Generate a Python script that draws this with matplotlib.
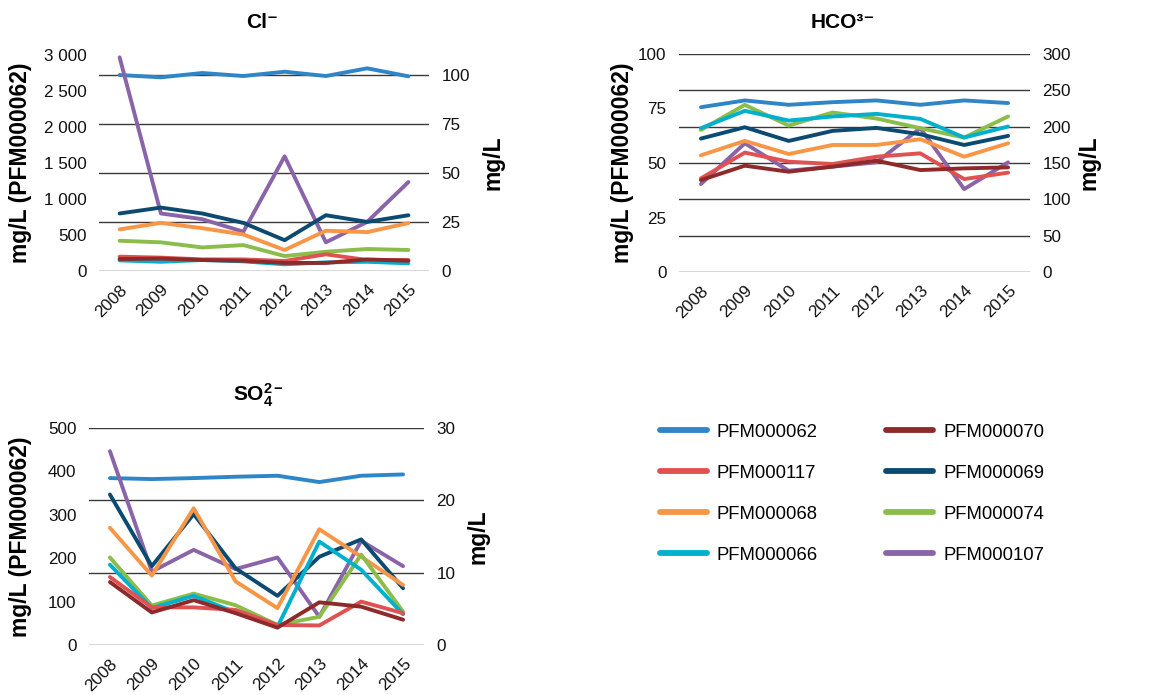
import matplotlib
matplotlib.use("Agg")
import matplotlib.pyplot as plt
from matplotlib.ticker import FuncFormatter, FixedLocator
import numpy as np

plt.rcParams['font.family'] = ['Liberation Sans', 'DejaVu Sans']
plt.rcParams['mathtext.fontset'] = 'custom'
plt.rcParams['mathtext.rm'] = 'Liberation Sans'
plt.rcParams['mathtext.bf'] = 'Liberation Sans:bold'
plt.rcParams['mathtext.it'] = 'Liberation Sans:italic'

years = ["2008", "2009", "2010", "2011", "2012", "2013", "2014", "2015"]
series_names = ["PFM000062", "PFM000117", "PFM000068", "PFM000066",
                "PFM000070", "PFM000069", "PFM000074", "PFM000107"]
series_colors = ["#2e86c8", "#e05252", "#f79646", "#00b0cc",
                 "#8f2a2a", "#0c4a72", "#8bbd4a", "#8a64a8"]
right_draw_order = ["PFM000107", "PFM000069", "PFM000068", "PFM000074",
                    "PFM000066", "PFM000117", "PFM000070"]

# Cl- panel (PFM000062 on left axis, others on right axis)
cl_062 = [2722, 2690, 2750, 2708, 2768, 2708, 2815, 2704]
cl_right = {
    "PFM000107": [108.8, 29.3, 26.4, 20.0, 58.4, 14.6, 25.0, 45.3],
    "PFM000069": [29.3, 32.3, 29.3, 24.5, 15.7, 28.4, 25.0, 28.4],
    "PFM000068": [21.2, 24.5, 21.8, 18.6, 10.7, 20.5, 19.8, 24.4],
    "PFM000074": [15.4, 14.6, 12.0, 13.2, 7.6, 9.8, 11.2, 10.7],
    "PFM000117": [7.3, 6.8, 5.9, 5.9, 5.1, 8.5, 5.6, 5.6],
    "PFM000070": [6.1, 6.3, 5.6, 5.2, 4.1, 4.1, 5.9, 5.2],
    "PFM000066": [5.4, 4.7, 5.6, 4.9, 3.4, 4.4, 4.7, 3.9],
}
cl_left_ticks = [0, 500, 1000, 1500, 2000, 2500, 3000]
cl_right_ticks = [0, 25, 50, 75, 100]

# HCO3- panel
hco_062 = [75.6, 78.7, 76.7, 77.9, 78.7, 76.7, 78.7, 77.5]
hco_right = {
    "PFM000074": [195.6, 230.0, 201.5, 219.5, 211.2, 197.9, 185.0, 214.0],
    "PFM000066": [197.9, 221.8, 208.4, 214.0, 217.6, 210.7, 185.0, 200.2],
    "PFM000069": [183.6, 199.2, 180.4, 194.2, 198.3, 189.6, 174.8, 187.3],
    "PFM000068": [160.6, 180.4, 162.4, 174.8, 174.8, 182.7, 158.7, 177.1],
    "PFM000107": [121.0, 177.1, 139.4, 145.0, 150.9, 197.9, 114.1, 150.9],
    "PFM000117": [128.8, 164.3, 151.8, 148.6, 158.7, 163.3, 127.9, 136.7],
    "PFM000070": [126.5, 146.3, 138.0, 145.0, 153.2, 140.3, 142.6, 144.0],
}
hco_left_ticks = [0, 25, 50, 75, 100]
hco_right_ticks = [0, 50, 100, 150, 200, 250, 300]

# SO4 2- panel
so4_062 = [384.6, 382.3, 384.6, 387.7, 390.0, 375.4, 390.0, 393.0]
so4_right = {
    "PFM000107": [26.8, 10.15, 13.15, 10.5, 12.1, 3.9, 14.4, 10.9],
    "PFM000069": [20.8, 10.9, 18.1, 10.6, 6.8, 12.2, 14.6, 7.85],
    "PFM000068": [16.2, 9.6, 18.9, 8.8, 5.1, 16.0, 12.2, 8.3],
    "PFM000066": [11.1, 5.1, 6.8, 4.5, 2.5, 14.3, 10.4, 4.25],
    "PFM000074": [12.1, 5.45, 7.1, 5.5, 2.77, 3.9, 12.5, 4.6],
    "PFM000117": [9.4, 5.2, 5.2, 4.85, 2.77, 2.7, 6.0, 4.4],
    "PFM000070": [8.7, 4.5, 6.2, 4.4, 2.4, 5.9, 5.3, 3.5],
}
so4_left_ticks = [0, 100, 200, 300, 400, 500]
so4_right_ticks = [0, 10, 20, 30]

W, H = 1163, 695
fig = plt.figure(figsize=(W / 100, H / 100), dpi=100)
color_of = dict(zip(series_names, series_colors))

TICK_FS = 12.3
LABEL_FS = 16.5
TITLE_FS = 15
LW = 2.8
GRID_C = "#3a3a3a"


def px_rect(x0, x1, ytop, ybot):
    return [x0 / W, 1 - ybot / H, (x1 - x0) / W, (ybot - ytop) / H]


def thousands(v, _):
    return f"{v:,.0f}".replace(",", " ")


def panel(rect, left_vals, right_dict, left_ticks, right_ticks,
          left_max, right_max, title, title_xy, lab_l_x, lab_r_x):
    ax = fig.add_axes(rect)
    x = np.arange(len(years))
    ax.set_xlim(-0.5, len(years) - 0.5)
    ax.set_ylim(0, left_max)
    # gridlines at the right axis ticks, drawn behind all series
    for t in right_ticks:
        ax.axhline(t * left_max / right_max, color=GRID_C, lw=1.0, zorder=0.5)
    ax.plot(x, left_vals, color=color_of["PFM000062"], lw=LW,
            solid_capstyle='round', zorder=2)
    ax.yaxis.set_major_locator(FixedLocator(left_ticks))
    ax.yaxis.set_major_formatter(FuncFormatter(thousands))
    ax.set_xticks(x)
    ax.set_xticklabels(years, rotation=45, ha='right', va='top',
                       rotation_mode='anchor', fontsize=TICK_FS)
    ax.tick_params(axis='both', length=0, labelsize=TICK_FS, colors='#111111')
    ax.tick_params(axis='y', pad=9)
    ax.tick_params(axis='x', pad=8)
    for s in ax.spines.values():
        s.set_visible(False)

    ax2 = ax.twinx()
    ax2.set_ylim(0, right_max)
    for name in right_draw_order:
        ax2.plot(x, right_dict[name], color=color_of[name], lw=LW,
                 solid_capstyle='round', zorder=2)
    ax2.yaxis.set_major_locator(FixedLocator(right_ticks))
    ax2.yaxis.set_major_formatter(FuncFormatter(thousands))
    ax2.tick_params(axis='y', length=0, labelsize=TICK_FS, pad=9, colors='#111111')
    for s in ax2.spines.values():
        s.set_visible(False)

    ycen = H - (rect[1] + rect[3] / 2) * H
    fig.text(lab_l_x / W, 1 - ycen / H, "mg/L (PFM000062)", rotation=90,
             ha='center', va='center', fontsize=LABEL_FS, fontweight='bold')
    fig.text(lab_r_x / W, 1 - ycen / H, "mg/L", rotation=90,
             ha='center', va='center', fontsize=LABEL_FS, fontweight='bold')
    fig.text(title_xy[0] / W, 1 - title_xy[1] / H, title, ha='center',
             va='center', fontsize=TITLE_FS, fontweight='bold',
             family=['Liberation Sans', 'DejaVu Sans'])
    return ax, ax2


panel(px_rect(99, 429, 55, 271), cl_062, cl_right, cl_left_ticks,
      cl_right_ticks, 3000, 110, "Cl\u207b", (262, 23), 21, 493)
panel(px_rect(679, 1030, 54, 272), hco_062, hco_right, hco_left_ticks,
      hco_right_ticks, 100, 300, "HCO\u00b3\u207b", (843, 23), 622, 1089)
panel(px_rect(89, 424, 428, 645), so4_062, so4_right, so4_left_ticks,
      so4_right_ticks, 500, 30, r"$\mathbf{SO_4^{2-}}$", (258, 395), 21, 478)

handles = [plt.Line2D([], [], color=c, lw=4.2, solid_capstyle='round')
           for c in series_colors]
fig.legend(handles, series_names, ncol=2, loc='upper left',
           bbox_to_anchor=(643 / W, 1 - 407 / H), frameon=False,
           fontsize=13.3, handlelength=2.55, handletextpad=0.55,
           labelspacing=1.3, columnspacing=3.7)

fig.savefig("out.png", dpi=100, facecolor='white')
